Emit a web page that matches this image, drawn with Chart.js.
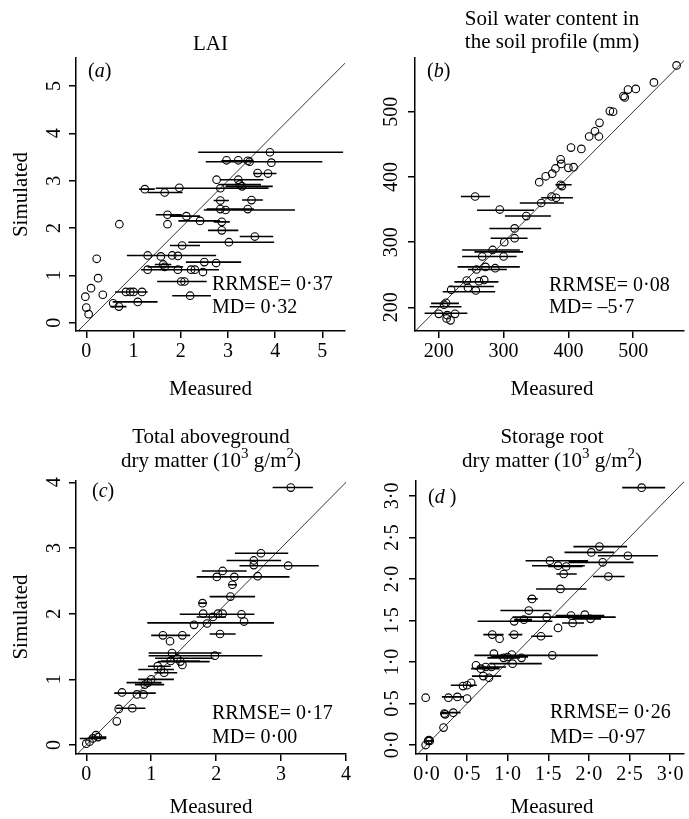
<!DOCTYPE html>
<html>
<head>
<meta charset="utf-8">
<script src="https://cdn.jsdelivr.net/npm/chart.js@4.4.1/dist/chart.umd.min.js"></script>
<style>
  html, body { margin: 0; padding: 0; background: #fff; }
  #wrap { position: relative; width: 689px; height: 819px; overflow: hidden; }
  canvas { position: absolute; }
</style>
</head>
<body>
<div id="wrap">
  <canvas id="cA"></canvas>
  <canvas id="cB"></canvas>
  <canvas id="cC"></canvas>
  <canvas id="cD"></canvas>
</div>
<script>
// (a) LAI
const laiMeasured = [3.89, 2.97, 3.22, 3.46, 3.42, 3.92, 3.63, 3.85, 2.76, 3.22,
  3.25, 3.30, 1.24, 1.66, 1.97, 2.84, 2.84, 3.50, 2.84, 2.95,
  3.42, 1.72, 2.12, 2.41, 2.87, 1.72, 0.70, 2.87, 3.57, 2.03,
  3.02, 1.82, 1.30, 1.58, 1.94, 1.63, 1.66, 2.50, 2.75, 1.30,
  1.94, 2.22, 2.30, 2.47, 2.01, 2.08, 2.20, 0.84, 0.93, 1.00,
  1.18, 1.09, 0.57, 0.69, 0.22, 0.25, 0.10, -0.02, 0.35, 0.00, 0.05];
const laiSimulated = [3.60, 3.43, 3.43, 3.40, 3.42, 3.38, 3.16, 3.15, 3.02, 3.02,
  2.92, 2.88, 2.82, 2.75, 2.85, 2.84, 2.58, 2.59, 2.40, 2.38,
  2.40, 2.28, 2.25, 2.15, 2.13, 2.08, 2.08, 1.95, 1.82, 1.63,
  1.70, 1.42, 1.42, 1.40, 1.41, 1.23, 1.18, 1.28, 1.26, 1.12,
  1.12, 1.12, 1.12, 1.07, 0.87, 0.87, 0.57, 0.65, 0.65, 0.65,
  0.65, 0.44, 0.41, 0.34, 1.35, 0.94, 0.73, 0.55, 0.59, 0.32, 0.18];
const laiBarY    = [3.60, 3.40, 3.42, 3.15, 3.02, 2.92, 2.88, 2.82, 2.75, 2.84, 2.58, 2.59, 2.40, 2.38, 2.28, 2.25, 2.15,
  2.13, 1.95, 1.82, 1.63, 1.70, 1.42, 1.23, 1.18, 1.28, 1.12, 1.12, 0.87, 0.57, 0.65, 0.44, 0.34];
const laiBarLow  = [2.37, 2.53, 2.86, 3.54, 2.83, 2.80, 2.95, 1.12, 1.30, 1.47, 2.70, 3.30, 2.55, 2.49, 1.47, 1.77, 1.95,
  2.70, 2.58, 3.25, 1.77, 2.16, 0.86, 1.45, 1.30, 2.11, 1.16, 1.90, 1.50, 1.82, 0.61, 0.56, 0.51];
const laiBarHigh = [5.44, 5.00, 3.53, 4.03, 3.75, 3.70, 3.95, 1.45, 2.04, 3.86, 3.02, 3.74, 3.55, 4.42, 2.02, 2.41, 2.83,
  3.04, 3.22, 3.96, 2.41, 3.98, 2.75, 1.80, 2.05, 3.28, 2.81, 2.62, 2.55, 2.64, 1.30, 1.51, 0.85];
const laiTicks = [0, 1, 2, 3, 4, 5];

// (b) soil water content (mm)
const swMeasured = [567, 532, 504, 492, 485, 487, 464, 469, 448, 441, 432, 447, 420, 404, 400, 408, 388, 389, 380, 375,
  365, 355, 388, 390, 374, 381, 358, 256, 294, 335, 317, 301, 317, 283, 267, 300, 258, 272, 287, 243,
  262, 270, 245, 257, 219, 211, 208, 200, 213, 225, 212, 218];
const swSimulated = [571, 545, 535, 534, 524, 522, 501, 500, 483, 470, 462, 462, 443, 445, 414, 415, 427, 420, 413, 405,
  401, 392, 388, 386, 370, 368, 360, 370, 350, 340, 321, 300, 306, 288, 278, 278, 258, 262, 260, 241,
  240, 242, 230, 226, 227, 207, 204, 190, 188, 190, 183, 180];
const swBarY    = [388, 368, 360, 370, 349, 340, 321, 306, 288, 285, 278, 262, 258, 239, 232, 224, 206, 201, 191];
const swBarLow  = [380, 358, 325, 234, 259, 302, 278, 280, 236, 255, 236, 229, 245, 224, 215, 206, 188, 186, 178];
const swBarHigh = [405, 407, 393, 279, 347, 373, 358, 337, 325, 330, 320, 325, 305, 292, 285, 287, 231, 235, 244];
const swTicks = [200, 300, 400, 500];

// (c) total aboveground dry matter (10^3 g/m2)
const tdmMeasured = [3.15, 2.69, 2.58, 2.58, 3.11, 2.10, 2.01, 2.28, 2.64, 2.25, 2.22, 1.79, 1.80, 1.95, 2.03, 2.10,
  2.39, 2.43, 1.86, 1.66, 2.06, 1.18, 1.48, 1.29, 1.98, 1.32, 1.40, 1.45, 1.48, 1.30, 1.10, 1.15, 1.20,
  1.00, 0.95, 0.90, 0.55, 0.78, 0.88, 0.50, 0.71, 0.47, 0.05, 0.10, 0.15, 0.18, 0.00];
const tdmSimulated = [3.92, 2.92, 2.81, 2.74, 2.73, 2.65, 2.56, 2.56, 2.57, 2.44, 2.26, 2.16, 2.00, 1.95, 2.00, 2.00,
  1.99, 1.88, 1.85, 1.83, 1.69, 1.67, 1.67, 1.58, 1.36, 1.40, 1.32, 1.27, 1.22, 1.28, 1.20, 1.15, 1.10,
  1.00, 0.95, 0.92, 0.80, 0.77, 0.77, 0.55, 0.56, 0.36, 0.05, 0.10, 0.15, 0.12, 0.02];
const tdmBarY    = [3.92, 2.92, 2.81, 2.73, 2.65, 2.56, 2.56, 2.44, 2.26, 2.16, 1.99, 1.95, 1.86, 1.69, 1.67,
  1.36, 1.40, 1.32, 1.27, 1.28, 1.20, 1.15, 1.10, 1.00, 0.95, 0.92, 0.79, 0.56, 0.10, 0.12];
const tdmBarLow  = [2.87, 2.29, 2.16, 2.36, 1.78, 1.70, 2.10, 2.20, 1.90, 1.73, 1.44, 1.70, 0.94, 1.90, 1.00,
  0.96, 0.96, 1.06, 1.10, 1.15, 0.95, 0.80, 1.05, 0.80, 0.62, 0.75, 0.43, 0.46, -0.10, 0.05];
const tdmBarHigh = [3.49, 3.11, 3.00, 3.58, 2.47, 3.13, 2.60, 2.32, 2.60, 1.86, 2.59, 2.15, 2.89, 2.30, 1.60,
  2.71, 2.08, 1.96, 1.90, 1.75, 1.30, 1.35, 1.40, 1.35, 1.16, 1.20, 1.07, 0.91, 0.31, 0.31];
const tdmTicks = [0, 1, 2, 3, 4];

// (d) storage root dry matter (10^3 g/m2)
const srMeasured = [2.65, 2.13, 2.03, 2.48, 2.17, 1.52, 1.62, 1.72, 1.69, 2.24, 1.65, 1.30, 1.26, 1.08, 1.20, 1.48,
  1.62, 1.78, 1.95, 2.02, 1.80, 0.81, 0.90, 1.08, 1.41, 0.83, 0.95, 1.00, 1.05, 1.17, 1.55, 1.06,
  0.61, 0.67, 0.73, 0.80, 0.70, 0.77, 0.55, 0.45, 0.50, 0.27, 0.38, 0.50, -0.01, 0.22, 0.23, 0.33,
  0.21, 0.02, 0.04, 0.03, -0.01];
const srSimulated = [3.10, 2.39, 2.32, 2.28, 2.20, 2.22, 2.16, 2.15, 2.06, 2.03, 1.88, 1.76, 1.62, 1.49, 1.51, 1.54,
  1.41, 1.56, 1.57, 1.52, 1.47, 1.33, 1.28, 1.33, 1.31, 1.10, 1.05, 1.06, 1.09, 1.05, 1.08, 0.98,
  0.96, 0.92, 0.94, 0.94, 0.83, 0.81, 0.75, 0.71, 0.72, 0.57, 0.58, 0.56, 0.57, 0.38, 0.37, 0.39,
  0.21, 0.05, 0.05, 0.06, 0.00];
const srBarY    = [3.10, 2.39, 2.32, 2.28, 2.20, 2.22, 2.16, 2.15, 2.06, 2.03, 1.88, 1.76, 1.62, 1.49, 1.51, 1.54,
  1.56, 1.54, 1.52, 1.47, 1.33, 1.33, 1.31, 1.08, 1.05, 1.06, 0.98, 0.92, 0.94, 0.83, 0.72, 0.58, 0.38, 0.39, 0.05];
const srBarLow  = [2.41, 1.81, 1.70, 2.11, 1.75, 1.22, 1.30, 1.50, 1.60, 2.05, 1.35, 1.24, 0.91, 0.63, 1.08, 1.06,
  1.59, 1.70, 1.80, 1.67, 0.70, 1.01, 1.29, 0.59, 0.75, 0.80, 0.78, 0.55, 0.62, 0.56, 0.30, 0.19, 0.18, 0.18, 0.00];
const srBarHigh = [2.94, 2.47, 2.31, 2.85, 2.55, 1.99, 1.95, 1.92, 1.85, 2.44, 1.97, 1.37, 1.54, 1.55, 1.30, 2.33,
  2.19, 2.10, 2.15, 1.94, 0.95, 1.18, 1.55, 2.11, 1.15, 1.25, 1.42, 0.90, 0.98, 0.92, 0.62, 0.46, 0.26, 0.42, 0.07];
const srTicks = [0, 0.5, 1, 1.5, 2, 2.5, 3];

const SERIF = '"Liberation Serif", "Times New Roman", serif';
const fnt = (size, italic) => (italic ? 'italic ' : '') + size + 'px ' + SERIF;
const dot = v => String(v).replace('.', '\u00b7');
const dot1 = v => v.toFixed(1).replace('.', '\u00b7');

// text made of parts: {t, sup, it}
function drawRich(ctx, parts, x, y, align, size) {
  let w = 0;
  parts.forEach(p => {
    ctx.font = fnt(p.sup ? Math.round(size * 0.7) : size, p.it);
    p.w = ctx.measureText(p.t).width;
    w += p.w;
  });
  let cx = align === 'center' ? x - w / 2 : x;
  ctx.textAlign = 'left';
  ctx.textBaseline = 'alphabetic';
  parts.forEach(p => {
    ctx.font = fnt(p.sup ? Math.round(size * 0.7) : size, p.it);
    ctx.fillText(p.t, cx, p.sup ? y - size * 0.42 : y);
    cx += p.w;
  });
}
const txt = s => [{ t: s }];

function panelText(cfg) {
  return {
    id: 'panelText',
    afterDraw(chart) {
      const ctx = chart.ctx;
      const ox = cfg.left, oy = cfg.top;
      ctx.save();
      ctx.fillStyle = '#000';
      cfg.texts.forEach(it => {
        if (it.rot) {
          ctx.save();
          ctx.translate(it.x - ox, it.y - oy);
          ctx.rotate(-Math.PI / 2);
          drawRich(ctx, it.parts, 0, 0, 'center', it.size || 21);
          ctx.restore();
        } else {
          drawRich(ctx, it.parts, it.x - ox, it.y - oy, it.align || 'left', it.size || 21);
        }
      });
      // y tick labels, parallel to the axis
      const ys = chart.scales.y;
      ys.ticks.forEach(t => {
        ctx.save();
        ctx.translate(cfg.yTickX - ox, ys.getPixelForValue(t.value));
        ctx.rotate(-Math.PI / 2);
        ctx.font = fnt(20);
        ctx.textAlign = 'center';
        ctx.textBaseline = 'alphabetic';
        ctx.fillText(cfg.fmt(t.value), 0, 0);
        ctx.restore();
      });
      ctx.restore();
    }
  };
}

function makePanel(cfg) {
  const el = document.getElementById(cfg.id);
  el.width = cfg.w; el.height = cfg.h;
  el.style.left = cfg.left + 'px'; el.style.top = cfg.top + 'px';
  el.style.width = cfg.w + 'px'; el.style.height = cfg.h + 'px';

  const bars = [];
  cfg.barY.forEach((y, i) => {
    bars.push({ x: cfg.barLow[i], y }, { x: cfg.barHigh[i], y }, { x: null, y: null });
  });
  const pts = cfg.mx.map((x, i) => ({ x, y: cfg.my[i] }));
  const lo = Math.min(cfg.xr[0], cfg.yr[0]), hi = Math.max(cfg.xr[1], cfg.yr[1]);

  const axis = (range, ticks, isX) => ({
    type: 'linear',
    min: range[0], max: range[1],
    afterBuildTicks: s => { s.ticks = ticks.map(v => ({ value: v })); },
    afterFit: s => { if (isX) s.height = cfg.xH; else s.width = cfg.yW; },
    grid: { drawOnChartArea: false, drawTicks: true, tickLength: 7, color: '#000', lineWidth: 1.5 },
    border: { display: true, color: '#000', width: 1.5 },
    ticks: {
      display: isX,
      autoSkip: false, maxRotation: 0, padding: 2,
      color: '#000', font: { family: SERIF, size: 20 },
      callback: v => cfg.fmt(v)
    }
  });

  return new Chart(el, {
    type: 'scatter',
    data: {
      datasets: [
        { data: pts, showLine: false, pointRadius: 3.8, pointBorderWidth: 1.1,
          pointBorderColor: '#000', pointBackgroundColor: 'rgba(0,0,0,0)' },
        { data: bars, showLine: true, spanGaps: false, pointRadius: 0,
          borderColor: '#000', borderWidth: 1.6 },
        { data: [{ x: lo, y: lo }, { x: hi, y: hi }], showLine: true, pointRadius: 0,
          borderColor: '#000', borderWidth: 0.8 }
      ]
    },
    options: {
      responsive: false,
      devicePixelRatio: 1,
      animation: false,
      layout: { padding: { left: 0, top: cfg.padTop, right: cfg.padRight, bottom: 0 } },
      plugins: { legend: { display: false }, tooltip: { enabled: false } },
      scales: { x: axis(cfg.xr, cfg.ticks, true), y: axis(cfg.yr, cfg.ticks, false) }
    },
    plugins: [panelText(cfg)]
  });
}

const dm = [{ t: 'dry matter (10' }, { t: '3', sup: true }, { t: ' g/m' }, { t: '2', sup: true }, { t: ')' }];

makePanel({
  id: 'cA', left: 0, top: 0, w: 360, h: 400, padTop: 58, padRight: 15, yW: 76, xH: 69,
  xr: [-0.218, 5.48], yr: [-0.175, 5.59], ticks: laiTicks, fmt: dot,
  mx: laiMeasured, my: laiSimulated, barY: laiBarY, barLow: laiBarLow, barHigh: laiBarHigh,
  yTickX: 60,
  texts: [
    { parts: txt('LAI'), x: 210.5, y: 50, align: 'center' },
    { parts: [{ t: '(' }, { t: 'a', it: true }, { t: ')' }], x: 88, y: 77, size: 20 },
    { parts: txt('RRMSE= 0\u00b737'), x: 212, y: 290, size: 20 },
    { parts: txt('MD= 0\u00b732'), x: 212, y: 313, size: 20 },
    { parts: txt('Measured'), x: 210.5, y: 395, align: 'center' },
    { parts: txt('Simulated'), x: 27, y: 194.5, rot: true }
  ]
});

makePanel({
  id: 'cB', left: 345, top: 0, w: 344, h: 400, padTop: 58, padRight: 0, yW: 70, xH: 69,
  xr: [163.2, 578.3], yr: [163.7, 582.4], ticks: swTicks, fmt: dot,
  mx: swMeasured, my: swSimulated, barY: swBarY, barLow: swBarLow, barHigh: swBarHigh,
  yTickX: 397,
  texts: [
    { parts: txt('Soil water content in'), x: 552, y: 25, align: 'center' },
    { parts: txt('the soil profile (mm)'), x: 552, y: 48, align: 'center' },
    { parts: [{ t: '(' }, { t: 'b', it: true }, { t: ')' }], x: 427, y: 77, size: 20 },
    { parts: txt('RRMSE= 0\u00b708'), x: 549, y: 291, size: 20 },
    { parts: txt('MD= \u20135\u00b77'), x: 549, y: 313, size: 20 },
    { parts: txt('Measured'), x: 552, y: 395, align: 'center' }
  ]
});

makePanel({
  id: 'cC', left: 0, top: 400, w: 360, h: 419, padTop: 81, padRight: 14, yW: 76, xH: 65,
  xr: [-0.158, 4.0], yr: [-0.137, 4.02], ticks: tdmTicks, fmt: dot,
  mx: tdmMeasured, my: tdmSimulated, barY: tdmBarY, barLow: tdmBarLow, barHigh: tdmBarHigh,
  yTickX: 60,
  texts: [
    { parts: txt('Total aboveground'), x: 211, y: 443, align: 'center' },
    { parts: dm, x: 211, y: 467, align: 'center' },
    { parts: [{ t: '(' }, { t: 'c', it: true }, { t: ')' }], x: 92, y: 497, size: 20 },
    { parts: txt('RRMSE= 0\u00b717'), x: 212, y: 719, size: 20 },
    { parts: txt('MD= 0\u00b700'), x: 212, y: 743, size: 20 },
    { parts: txt('Measured'), x: 211, y: 813, align: 'center' },
    { parts: txt('Simulated'), x: 27, y: 617, rot: true }
  ]
});

makePanel({
  id: 'cD', left: 345, top: 400, w: 344, h: 419, padTop: 81, padRight: 0, yW: 71, xH: 65,
  xr: [-0.129, 3.17], yr: [-0.108, 3.18], ticks: srTicks, fmt: dot1,
  mx: srMeasured, my: srSimulated, barY: srBarY, barLow: srBarLow, barHigh: srBarHigh,
  yTickX: 398,
  texts: [
    { parts: txt('Storage root'), x: 552, y: 443, align: 'center' },
    { parts: dm.map(p => ({ ...p })), x: 552, y: 467, align: 'center' },
    { parts: [{ t: '(' }, { t: 'd', it: true }, { t: ' )' }], x: 428, y: 503, size: 20 },
    { parts: txt('RRMSE= 0\u00b726'), x: 550, y: 718, size: 20 },
    { parts: txt('MD= \u20130\u00b797'), x: 550, y: 743, size: 20 },
    { parts: txt('Measured'), x: 552, y: 813, align: 'center' }
  ]
});
</script>
</body>
</html>
